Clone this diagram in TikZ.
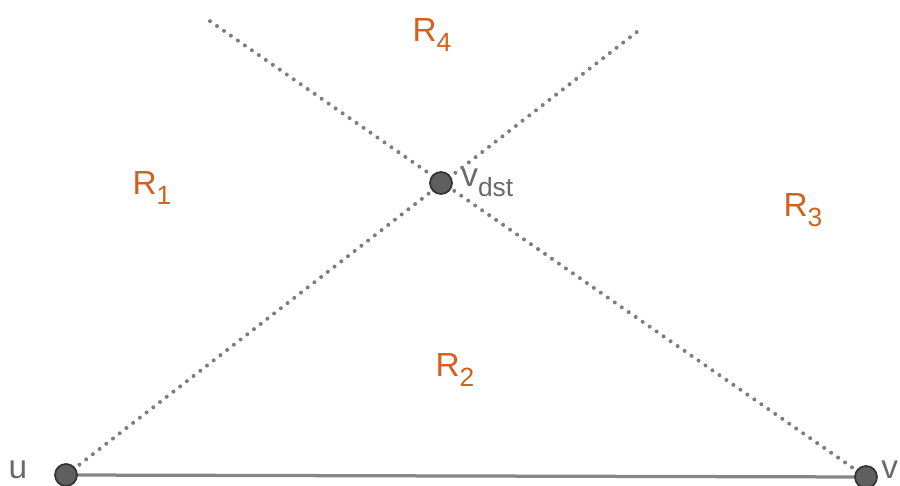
\documentclass[tikz,border=0pt]{standalone}
\usepackage{fontspec}
\setmainfont{Liberation Sans}
\usetikzlibrary{positioning,calc,backgrounds}

\definecolor{regorange}{RGB}{211,96,30}
\definecolor{labgray}{RGB}{105,105,105}
\definecolor{dotgray}{RGB}{125,125,125}
\definecolor{ptfill}{RGB}{95,95,95}

\newcommand{\lowsub}[1]{\raisebox{-0.55ex}{\fontsize{15}{15}\selectfont #1}}

\begin{document}
\begin{tikzpicture}[
        x=0.02cm, y=-0.02cm,
        every node/.style={font=\fontsize{19}{22}\selectfont},
        region/.style={text=regorange, inner sep=0pt},
        vlabel/.style={text=labgray, inner sep=0pt},
        vertex/.style={circle, draw=black!80, fill=ptfill, line width=1pt, minimum size=0.44cm, inner sep=0pt},
        guide/.style={dotgray, line width=0.08cm, dash pattern=on 0pt off 0.17cm, line cap=round},
        base/.style={gray!95, line width=0.065cm}
    ]
        \useasboundingbox (0,0) rectangle (900,486);

        % Vertices
        \node[vertex] (u) at (66,475) {};
        \node[vertex] (v) at (866,477) {};
        \node[vertex] (vdst) at (441,183) {};

        % far ends of the dotted guides
        \coordinate (ufar) at (642,28);
        \coordinate (vfar) at (204,17);

        % Labels
        \node[vlabel, anchor=center] (ulab) at (18,470) {u};
        \node[vlabel, anchor=west] (vlab) at (881,470) {v};
        \node[vlabel, anchor=west] (vdstlab) at (461,183) {v\lowsub{dst}};

        \node[region] (r1) at (152,188) {R\lowsub{1}};
        \node[region] (r2) at (455,370) {R\lowsub{2}};
        \node[region] (r3) at (803,210) {R\lowsub{3}};
        \node[region] (r4) at (432,35) {R\lowsub{4}};

        % Lines
        \begin{scope}[on background layer]
            \draw[guide] (u.center) -- (ufar);
            \draw[guide] (v.center) -- (vfar);
            \draw[base] (u.center) -- (v.center);
        \end{scope}
    \end{tikzpicture}
\end{document}
